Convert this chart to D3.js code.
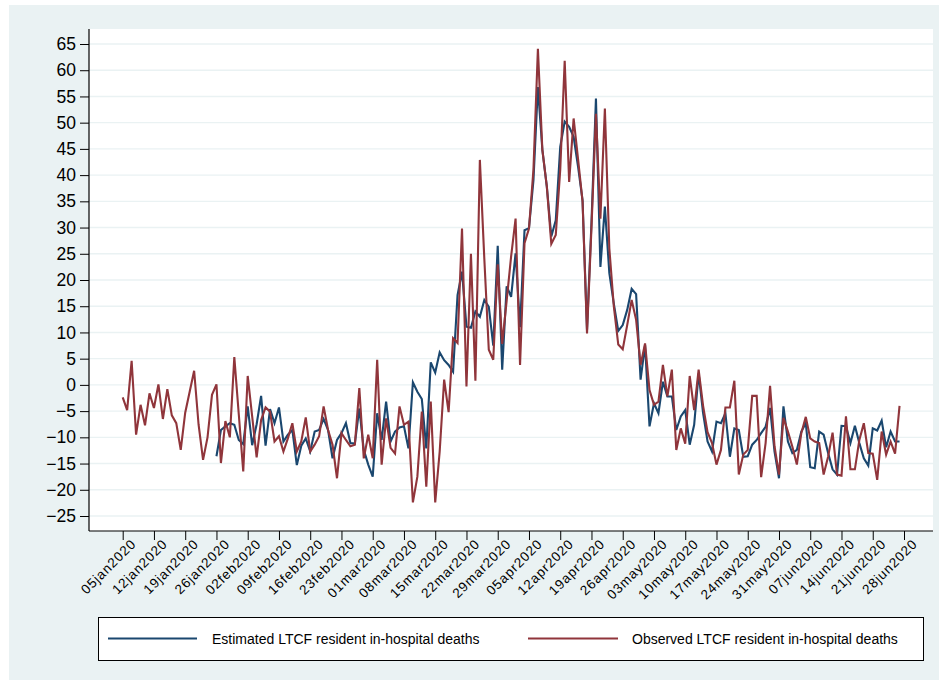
<!DOCTYPE html>
<html>
<head>
<meta charset="utf-8">
<script src="https://cdn.jsdelivr.net/npm/d3@7"></script>
<style>
  body { margin: 0; background: #ffffff; }
  text { font-family: "Liberation Sans", Arial, sans-serif; fill: #000; }
</style>
</head>
<body>
<svg id="chart" width="945" height="687"></svg>
<script>
// Daily LTCF resident in-hospital deaths (excess over baseline)
const observedStart = "05jan2020";
const observed = [
  -2.4, -4.8, 4.6, -9.5, -3.8, -7.7, -1.6, -4.4, 0.1, -6.5,
  -0.8, -5.8, -7.3, -12.4, -5.3, -1.3, 2.7, -7.6, -14.3, -10.0,
  -1.9, 0.1, -14.9, -6.9, -10.0, 5.3, -5.6, -16.5, 1.7, -6.0,
  -13.8, -6.7, -4.3, -5.1, -10.8, -9.8, -12.7, -10.2, -7.3, -12.7,
  -10.8, -6.2, -12.7, -11.4, -9.8, -4.1, -8.6, -11.4, -17.8, -9.2,
  -10.5, -11.7, -11.4, -0.6, -14.0, -9.5, -14.0, 4.8, -15.2, -6.4,
  -12.0, -13.1, -4.1, -7.6, -7.0, -22.4, -17.5, -5.1, -19.4, -3.2,
  -22.4, -12.7, 1.0, -5.2, 8.9, 8.0, 29.8, -0.3, 25.0, 0.8,
  42.9, 24.0, 6.7, 4.8, 23.0, 7.8, 16.0, 24.5, 31.7, 3.8,
  27.0, 29.8, 41.0, 64.1, 44.8, 37.8, 26.9, 28.6, 41.0, 61.8,
  38.7, 50.8, 43.0, 35.0, 9.8, 30.0, 51.7, 31.7, 52.7, 26.0,
  15.0, 7.7, 6.8, 11.4, 16.2, 12.4, 3.8, 7.9, -1.0, -3.8,
  -3.2, 3.8, -2.2, 2.9, -12.4, -8.3, -11.2, 1.7, -4.8, 2.9,
  -4.0, -9.0, -11.1, -15.2, -12.4, -4.3, -4.3, 0.8, -17.1, -13.3,
  -12.4, -2.1, -2.1, -17.6, -11.1, -0.2, -11.7, -17.1, -6.3, -8.9,
  -11.8, -15.2, -9.2, -6.1, -10.2, -10.8, -11.1, -17.1, -13.7, -9.1,
  -17.1, -17.3, -6.0, -16.1, -16.1, -10.5, -7.3, -13.0, -13.1, -18.1,
  -8.9, -13.3, -10.8, -13.1, -4.0
];

const estimatedStart = "26jan2020";
const estimated = [
  -13.6, -8.6, -7.9, -7.3, -7.6, -10.5, -11.3, -4.1, -11.5, -7.5,
  -2.1, -11.6, -4.6, -7.3, -4.3, -10.8, -9.5, -8.6, -15.3, -11.6,
  -10.2, -12.7, -8.9, -8.6, -6.5, -8.6, -14.0, -10.5, -9.2, -7.3,
  -11.1, -11.2, -4.5, -12.4, -15.2, -17.5, -5.4, -10.5, -3.2, -10.8,
  -8.9, -8.1, -7.9, -12.1, 0.5, -1.3, -2.7, -12.1, 4.3, 2.35,
  6.2, 4.7, 3.8, 2.5, 17.1, 21.6, 11.1, 10.9, 14.0, 13.0,
  16.2, 14.9, 7.5, 26.5, 2.9, 18.8, 16.8, 25.1, 11.0, 29.5,
  29.9, 39.0, 56.8, 44.8, 37.8, 28.3, 31.4, 45.4, 50.2, 49.2,
  47.3, 41.6, 35.2, 10.5, 31.0, 54.6, 22.5, 34.0, 21.3, 15.5,
  10.3, 11.4, 14.3, 18.3, 17.3, 1.0, 7.6, -7.9, -3.5, -5.4,
  0.6, -2.2, -2.2, -8.6, -6.0, -4.8, -11.4, -7.6, 2.2, -5.4,
  -10.8, -12.7, -7.0, -7.3, -5.4, -13.7, -8.3, -8.6, -13.7, -13.6,
  -11.4, -10.5, -9.2, -8.0, -4.4, -12.7, -17.8, -4.1, -10.8, -13.0,
  -12.4, -8.9, -7.3, -15.7, -15.9, -8.9, -9.5, -13.0, -16.1, -17.1,
  -7.8, -7.9, -11.1, -7.8, -11.1, -14.0, -15.4, -8.3, -8.7, -6.8,
  -11.9, -8.9, -10.8, -10.8
];

const yTickValues = [-25, -20, -15, -10, -5, 0, 5, 10, 15, 20, 25, 30, 35, 40, 45, 50, 55, 60, 65];
const xTickLabels = [
  "05jan2020", "12jan2020", "19jan2020", "26jan2020", "02feb2020", "09feb2020",
  "16feb2020", "23feb2020", "01mar2020", "08mar2020", "15mar2020", "22mar2020",
  "29mar2020", "05apr2020", "12apr2020", "19apr2020", "26apr2020", "03may2020",
  "10may2020", "17may2020", "24may2020", "31may2020", "07jun2020", "14jun2020",
  "21jun2020", "28jun2020"
];
const seriesNames = ["Estimated LTCF resident in-hospital deaths", "Observed LTCF resident in-hospital deaths"];
const seriesColors = ["#1a476f", "#90353b"];

const parseDay = d3.timeParse("%d%b%Y");
const toPoints = (start, values) => {
  const s = parseDay(start);
  return values.map((v, i) => ({ date: d3.timeDay.offset(s, i), value: v }));
};
const estPoints = toPoints(estimatedStart, estimated);
const obsPoints = toPoints(observedStart, observed);
const xTickDates = xTickLabels.map(parseDay);

const svg = d3.select("#chart");

// outer graph region
svg.append("rect").attr("x", 9).attr("y", 5).attr("width", 930).attr("height", 675).attr("fill", "#eaf2f3");

const plot = { left: 89, right: 933, top: 29, bottom: 531 };
svg.append("rect")
  .attr("x", plot.left).attr("y", plot.top)
  .attr("width", plot.right - plot.left).attr("height", plot.bottom - plot.top)
  .attr("fill", "#ffffff");

const x = d3.scaleTime().domain([xTickDates[0], xTickDates[xTickDates.length - 1]]).range([122.7, 904]);
const y = d3.scaleLinear().domain([-25, 65]).range([516, 44]);

// horizontal grid
svg.append("g").selectAll("line").data(yTickValues).join("line")
  .attr("x1", plot.left).attr("x2", plot.right)
  .attr("y1", d => y(d)).attr("y2", d => y(d))
  .attr("stroke", "#eaf2f3").attr("stroke-width", 1.4);

// series
const line = d3.line().x(d => x(d.date)).y(d => y(d.value));
svg.append("path").datum(estPoints).attr("d", line)
  .attr("fill", "none").attr("stroke", seriesColors[0]).attr("stroke-width", 2.1);
svg.append("path").datum(obsPoints).attr("d", line)
  .attr("fill", "none").attr("stroke", seriesColors[1]).attr("stroke-width", 2.1);

// y axis
const yAxis = svg.append("g").attr("transform", `translate(${plot.left},0)`)
  .call(d3.axisLeft(y).tickValues(yTickValues).tickSize(9).tickPadding(4));
yAxis.select(".domain").remove();
yAxis.selectAll("line").attr("stroke", "#000");
yAxis.selectAll("text").attr("font-size", 17.5).attr("font-family", "Liberation Sans, Arial, sans-serif");
svg.append("line").attr("x1", plot.left).attr("x2", plot.left)
  .attr("y1", plot.top).attr("y2", plot.bottom).attr("stroke", "#000").attr("stroke-width", 1.2);

// x axis
const xAxis = svg.append("g").attr("transform", `translate(0,${plot.bottom})`)
  .call(d3.axisBottom(x).tickValues(xTickDates).tickSize(9).tickFormat((d, i) => xTickLabels[i]));
xAxis.select(".domain").remove();
xAxis.selectAll("line").attr("stroke", "#000");
xAxis.selectAll("text")
  .attr("font-size", 13.5).attr("letter-spacing", "0.9px")
  .attr("font-family", "Liberation Sans, Arial, sans-serif")
  .attr("text-anchor", "end")
  .attr("transform", "translate(4,4) rotate(-45)")
  .attr("x", 0).attr("y", 9).attr("dy", "0.35em");
svg.append("line").attr("x1", plot.left).attr("x2", plot.right)
  .attr("y1", plot.bottom).attr("y2", plot.bottom).attr("stroke", "#000").attr("stroke-width", 1.2);

// legend
const lg = svg.append("g");
lg.append("rect").attr("x", 98.5).attr("y", 617.5).attr("width", 825).attr("height", 43)
  .attr("fill", "#fff").attr("stroke", "#000").attr("stroke-width", 1);
const legendItems = [
  { name: seriesNames[0], color: seriesColors[0], x0: 108, x1: 197, tx: 212 },
  { name: seriesNames[1], color: seriesColors[1], x0: 528, x1: 618, tx: 632 }
];
legendItems.forEach(it => {
  lg.append("line").attr("x1", it.x0).attr("x2", it.x1).attr("y1", 638.5).attr("y2", 638.5)
    .attr("stroke", it.color).attr("stroke-width", 2);
  lg.append("text").attr("x", it.tx).attr("y", 643.5).attr("font-size", 14).text(it.name);
});
</script>
</body>
</html>
